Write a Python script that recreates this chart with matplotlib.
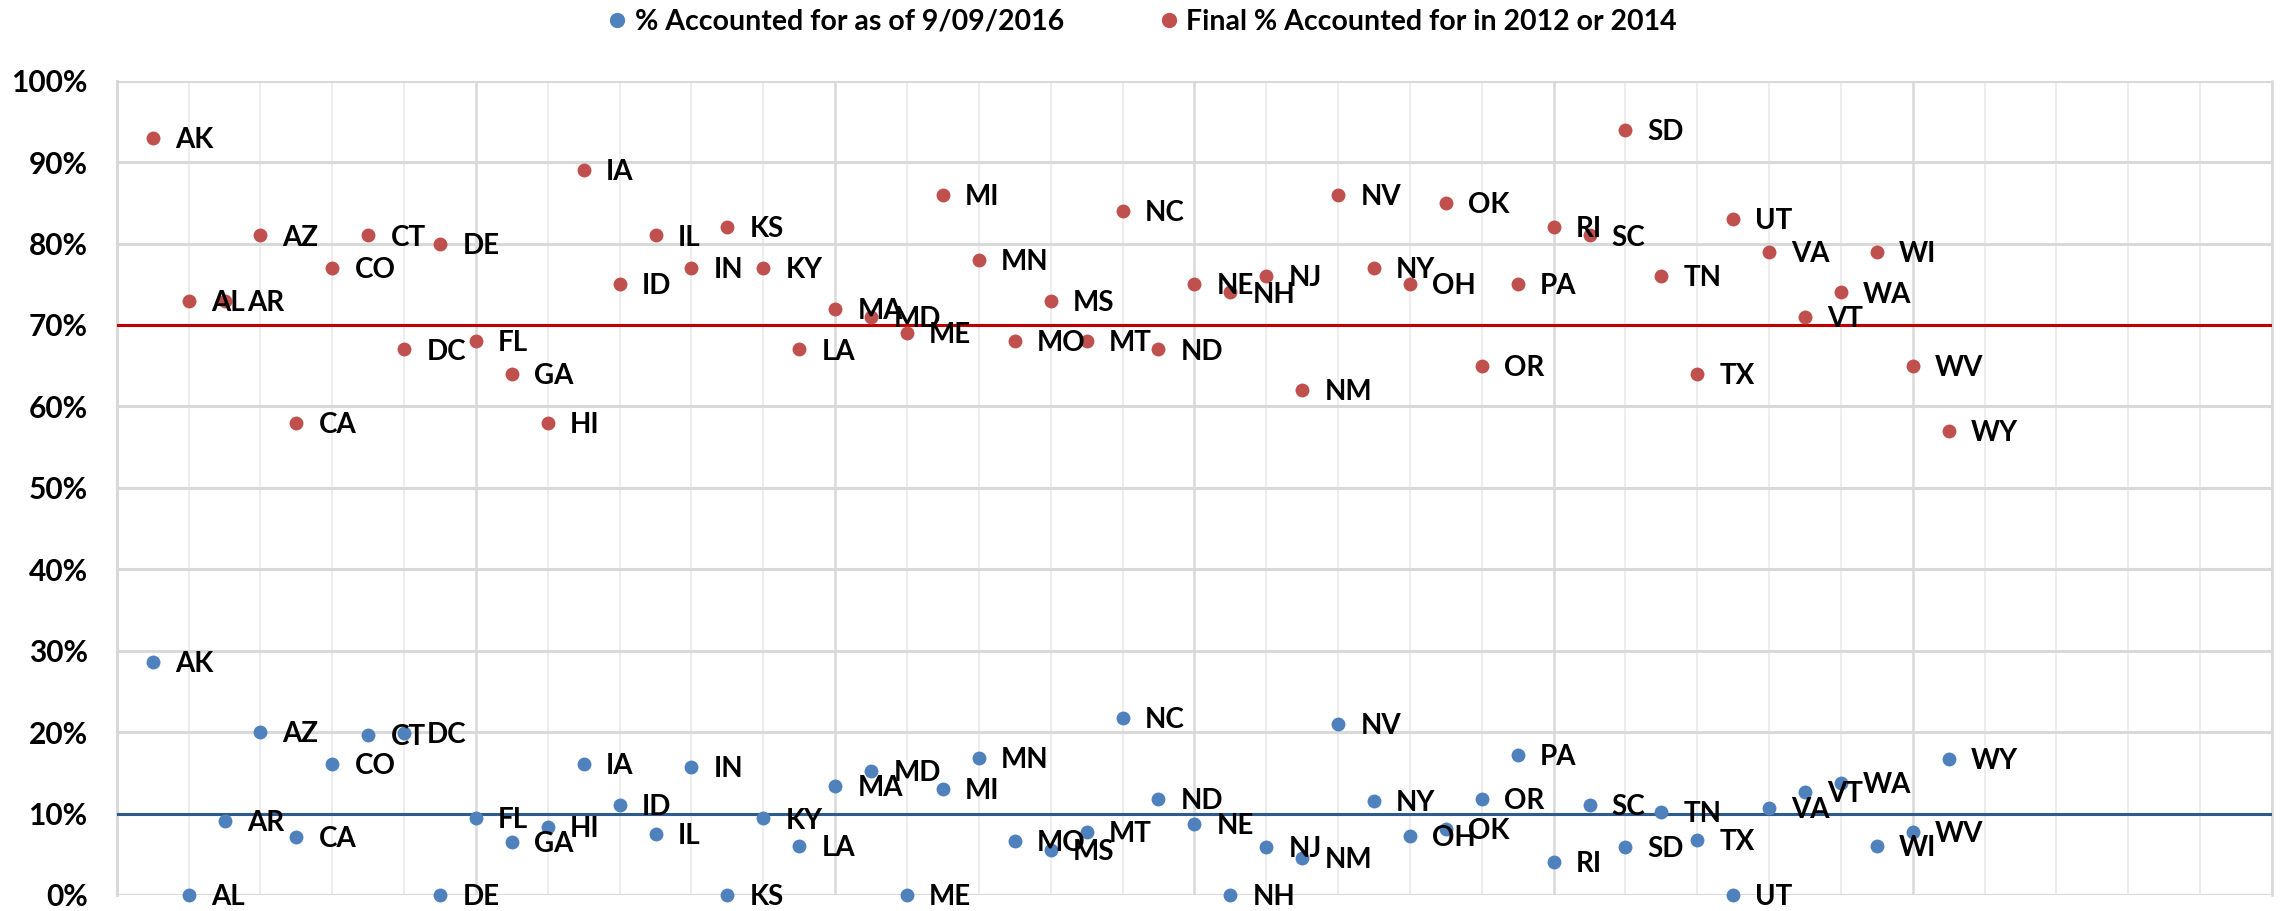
import matplotlib
matplotlib.use("Agg")
import matplotlib.pyplot as plt
from matplotlib.ticker import MultipleLocator, FuncFormatter
from matplotlib.lines import Line2D

states = ["AK", "AL", "AR", "AZ", "CA", "CO", "CT", "DC", "DE", "FL", "GA", "HI",
          "IA", "ID", "IL", "IN", "KS", "KY", "LA", "MA", "MD", "ME", "MI", "MN",
          "MO", "MS", "MT", "NC", "ND", "NE", "NH", "NJ", "NM", "NV", "NY", "OH",
          "OK", "OR", "PA", "RI", "SC", "SD", "TN", "TX", "UT", "VA", "VT", "WA",
          "WI", "WV", "WY"]

# Share of records accounted for as of 9/09/2016 (%)
current_pct = [28.6, 0.0, 9.1, 20.0, 7.1, 16.1, 19.6, 19.9, 0.0, 9.5, 6.5, 8.4,
               16.1, 11.1, 7.5, 15.7, 0.0, 9.4, 6.0, 13.4, 15.2, 0.0, 13.0, 16.8,
               6.6, 5.5, 7.7, 21.7, 11.8, 8.7, 0.0, 5.9, 4.5, 21.0, 11.5, 7.2,
               8.1, 11.8, 17.2, 4.0, 11.1, 5.9, 10.2, 6.7, 0.0, 10.7, 12.6, 13.8,
               6.0, 7.7, 16.7]

# Final share accounted for in 2012 or 2014 (%)
final_pct = [93, 73, 73, 81, 58, 77, 81, 67, 80, 68, 64, 58,
             89, 75, 81, 77, 82, 77, 67, 72, 71, 69, 86, 78,
             68, 73, 68, 84, 67, 75, 74, 76, 62, 86, 77, 75,
             85, 65, 75, 82, 81, 94, 76, 64, 83, 79, 71, 74,
             79, 65, 57]

current_ref = 10
final_ref = 70

series_names = ["% Accounted for as of 9/09/2016", "Final % Accounted for in 2012 or 2014"]
blue = "#4F81BD"
red = "#C0504D"

plt.rcParams["font.family"] = ["Lato", "DejaVu Sans"]
plt.rcParams["font.weight"] = "bold"

fig = plt.figure(figsize=(22.8, 9.11), dpi=100)
ax = fig.add_axes([0.0512, 0.0176, 0.9453, 0.8938])

x = list(range(1, len(states) + 1))
ax.scatter(x, current_pct, s=100, color=blue, zorder=4, clip_on=False, linewidths=0)
ax.scatter(x, final_pct, s=100, color=red, zorder=4, clip_on=False, linewidths=0)

ax.axhline(final_ref, color="#C00000", lw=2.2, zorder=3)
ax.axhline(current_ref, color="#2F5A8C", lw=2.2, zorder=3)

label_font = dict(fontsize=20, fontweight="bold", color="black", va="center",
                  ha="left", zorder=5, clip_on=False)
for xi, st, yc, yf in zip(x, states, current_pct, final_pct):
    ax.annotate(st, (xi, yc), xytext=(16, -1.5), textcoords="offset points", **label_font)
    ax.annotate(st, (xi, yf), xytext=(16, -1.5), textcoords="offset points", **label_font)

ax.set_xlim(0, 60)
ax.set_ylim(0, 100)
ax.xaxis.set_major_locator(MultipleLocator(10))
ax.xaxis.set_minor_locator(MultipleLocator(2))
ax.yaxis.set_major_locator(MultipleLocator(10))
ax.grid(which="major", axis="y", color="#D9D9D9", lw=2.2, zorder=0)
ax.grid(which="major", axis="x", color="#D9D9D9", lw=1.8, zorder=0)
ax.grid(which="minor", axis="x", color="#EDEDED", lw=1.4, zorder=0)
ax.set_axisbelow(True)

ax.tick_params(axis="x", which="both", length=0, labelbottom=False)
ax.tick_params(axis="y", length=0, pad=21, labelsize=21.5)
ax.yaxis.set_major_formatter(FuncFormatter(lambda v, p: f"{v:.0f}%"))
for lab in ax.get_yticklabels():
    lab.set_fontweight("bold")

for side in ["top", "bottom"]:
    ax.spines[side].set_visible(False)
ax.spines["left"].set_color("#D9D9D9")
ax.spines["left"].set_linewidth(2.2)
ax.spines["right"].set_color("#D9D9D9")
ax.spines["right"].set_linewidth(1.8)

handles = [Line2D([], [], ls="none", marker="o", markersize=10, color=blue, label=series_names[0]),
           Line2D([], [], ls="none", marker="o", markersize=10, color=red, label=series_names[1])]
fig.legend(handles=handles, loc="center", bbox_to_anchor=(0.5, 0.976), ncol=2,
           frameon=False, prop=dict(size=20.5, weight="bold"), handletextpad=0.1,
           columnspacing=3.2, handlelength=1.0)

fig.savefig("out.png", dpi=100)
